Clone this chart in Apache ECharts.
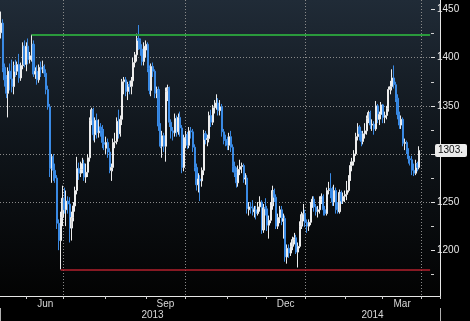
<!DOCTYPE html>
<html><head><meta charset="utf-8">
<script src="https://cdn.jsdelivr.net/npm/echarts@6/dist/echarts.min.js"></script>
<style>html,body{margin:0;padding:0;background:#000;}#c{width:470px;height:321px;}</style>
</head><body><div id="c"></div>
<script>
// Trading days (categories) per month; the last days of April 2014 are empty slots on the axis
const monthDays = [
  ['2013-05',[14,15,16,17,20,21,22,23,24,27,28,29,30,31]],
  ['2013-06',[3,4,5,6,7,10,11,12,13,14,17,18,19,20,21,24,25,26,27,28]],
  ['2013-07',[1,2,3,4,5,8,9,10,11,12,15,16,17,18,19,22,23,24,25,26,29,30,31]],
  ['2013-08',[1,2,5,6,7,8,9,12,13,14,15,16,19,20,21,22,23,26,27,28,29,30]],
  ['2013-09',[2,3,4,5,6,9,10,11,12,13,16,17,18,19,20,23,24,25,26,27,30]],
  ['2013-10',[1,2,3,4,7,8,9,10,11,14,15,16,17,18,21,22,23,24,25,28,29,30,31]],
  ['2013-11',[1,4,5,6,7,8,11,12,13,14,15,18,19,20,21,22,25,26,27,28,29]],
  ['2013-12',[2,3,4,5,6,9,10,11,12,13,16,17,18,19,20,23,24,26,27,30,31]],
  ['2014-01',[2,3,6,7,8,9,10,13,14,15,16,17,20,21,22,23,24,27,28,29,30,31]],
  ['2014-02',[3,4,5,6,7,10,11,12,13,14,17,18,19,20,21,24,25,26,27,28]],
  ['2014-03',[3,4,5,6,7,10,11,12,13,14,17,18,19,20,21,24,25,26,27,28,31]],
  ['2014-04',[1,2,3,4,7,8,9,10,11,14]]
];

const opens = [
  1426,1436,1390,1377,1363,1386,1378,1370,1392,1386,1393,1379,1392,1412,
  1393,1412,1398,1402,1414,1383,1386,1377,1390,1388,1391,1384,1367,1349,1285,1297,1283,1275,1228,1210,
  1234,1254,1242,1251,1248,1223,1234,1246,1262,1285,1280,1284,1290,1276,1281,1296,1335,1346,1320,1335,1322,1328,1324,
  1312,1306,1312,1302,1283,1286,1312,1313,1334,1321,1336,1375,1377,1365,1372,1370,1376,1395,1403,1420,1418,1409,
  1396,1408,1414,1389,1366,1391,1386,1363,1367,1329,1308,1319,1308,1365,1369,1333,1324,1322,1337,1323,1338,
  1327,1286,1316,1320,1309,1324,1323,1307,1286,1268,1274,1272,1283,1321,1315,1316,1340,1333,1348,1352,1353,1345,1349,
  1323,1315,1314,1309,1318,1307,1287,1281,1270,1284,1287,1288,1274,1275,1242,1245,1244,1240,1242,1238,1245,
  1250,1221,1244,1243,1226,1231,1246,1262,1255,1225,1234,1242,1230,1233,1193,1202,1197,1204,1211,1213,1198,
  1204,1225,1237,1238,1229,1225,1229,1247,1253,1245,1240,1242,1253,1256,1242,1238,1262,1264,1263,1250,1262,1242,
  1240,1260,1251,1256,1258,1262,1274,1288,1292,1300,1318,1328,1321,1313,1321,1324,1337,1343,1330,1331,
  1326,1350,1336,1341,1351,1338,1340,1347,1367,1370,1379,1372,1358,1341,1330,1336,1311,1312,1303,1295,1294,
  1283,1280,1290,1286
];
const closes = [
  1436,1390,1377,1363,1386,1378,1370,1392,1386,1393,1379,1392,1412,1393,
  1412,1398,1402,1414,1383,1386,1377,1390,1388,1391,1384,1367,1349,1285,1297,1283,1275,1228,1210,1234,
  1254,1242,1251,1248,1223,1234,1246,1262,1285,1280,1284,1290,1276,1281,1296,1335,1346,1320,1335,1322,1328,1324,1312,
  1310,1312,1302,1283,1286,1312,1313,1334,1321,1336,1375,1377,1365,1372,1370,1376,1395,1403,1420,1418,1409,1396,
  1412,1414,1389,1366,1391,1386,1363,1367,1329,1308,1319,1308,1365,1369,1333,1324,1322,1337,1323,1338,1327,
  1286,1317,1320,1309,1324,1323,1307,1286,1268,1274,1272,1283,1321,1315,1316,1340,1333,1348,1352,1353,1345,1349,1323,
  1315,1314,1309,1318,1307,1287,1281,1270,1284,1287,1288,1274,1275,1243,1245,1244,1240,1242,1238,1245,1250,
  1221,1244,1243,1226,1231,1246,1262,1255,1225,1234,1242,1230,1233,1193,1202,1197,1204,1211,1213,1198,1204,
  1225,1237,1238,1229,1225,1229,1247,1253,1245,1240,1242,1253,1256,1242,1238,1262,1264,1263,1250,1262,1242,1240,
  1260,1251,1256,1258,1262,1274,1288,1292,1300,1318,1328,1321,1313,1321,1324,1337,1343,1330,1331,1326,
  1350,1336,1341,1351,1338,1340,1347,1367,1370,1379,1372,1358,1341,1330,1336,1311,1312,1303,1295,1294,1283,
  1280,1290,1286,1303.6
];
const lows = [
  1420,1385,1370,1358,1338,1366,1364,1362,1380,1382,1374,1376,1388,1390,
  1386,1393,1394,1396,1380,1378,1372,1374,1380,1384,1380,1362,1346,1276,1270,1272,1270,1222,1200,1180,
  1225,1238,1225,1238,1208,1210,1230,1240,1258,1273,1276,1280,1272,1270,1276,1292,1330,1314,1312,1316,1317,1318,1306,
  1304,1300,1296,1280,1272,1282,1306,1310,1316,1318,1330,1362,1360,1356,1362,1362,1370,1390,1396,1408,1402,1392,
  1392,1400,1385,1362,1360,1380,1358,1358,1324,1306,1296,1302,1292,1355,1328,1316,1314,1318,1318,1320,1318,
  1280,1282,1306,1305,1306,1316,1302,1282,1262,1260,1251,1266,1278,1310,1308,1312,1328,1330,1342,1346,1340,1340,1318,
  1310,1308,1304,1304,1302,1281,1276,1265,1266,1278,1280,1270,1268,1238,1236,1238,1236,1234,1232,1236,1240,
  1217,1218,1236,1220,1212,1228,1242,1250,1222,1222,1228,1226,1212,1188,1186,1192,1194,1200,1206,1196,1182,
  1202,1222,1230,1224,1218,1220,1226,1244,1240,1236,1234,1238,1248,1236,1236,1236,1258,1254,1246,1246,1238,1238,
  1238,1248,1248,1250,1252,1260,1272,1282,1288,1298,1314,1314,1308,1310,1316,1320,1332,1326,1324,1320,
  1324,1332,1330,1336,1332,1332,1336,1344,1362,1366,1368,1354,1336,1326,1326,1308,1304,1300,1290,1288,1278,
  1277,1278,1282,1284
];
const highs = [
  1448,1440,1394,1382,1390,1394,1398,1396,1398,1396,1404,1395,1416,1418,
  1416,1420,1406,1424,1418,1390,1392,1393,1396,1397,1393,1388,1371,1352,1300,1300,1290,1278,1232,1240,
  1267,1265,1262,1256,1255,1240,1250,1266,1297,1291,1292,1296,1294,1290,1300,1338,1348,1348,1338,1342,1336,1332,1330,
  1326,1318,1316,1306,1290,1316,1322,1338,1346,1340,1378,1380,1380,1375,1376,1380,1400,1406,1425,1434,1420,1414,
  1416,1418,1416,1392,1394,1395,1388,1370,1370,1332,1324,1322,1369,1372,1370,1336,1328,1342,1340,1342,1344,
  1330,1320,1324,1323,1328,1328,1326,1310,1290,1280,1278,1286,1325,1324,1320,1344,1346,1351,1356,1362,1358,1356,1352,
  1326,1320,1318,1322,1324,1310,1292,1286,1288,1294,1291,1290,1280,1278,1250,1250,1252,1246,1246,1250,1256,
  1252,1248,1254,1246,1236,1250,1267,1264,1258,1238,1246,1246,1238,1236,1206,1206,1208,1214,1218,1216,1208,
  1230,1240,1248,1242,1232,1232,1250,1256,1256,1248,1246,1256,1259,1258,1246,1265,1271,1280,1266,1268,1265,1250,
  1263,1262,1260,1262,1272,1278,1292,1296,1304,1322,1332,1330,1324,1324,1332,1340,1345,1345,1336,1334,
  1355,1352,1344,1354,1352,1344,1350,1370,1376,1388,1392,1375,1362,1344,1340,1338,1316,1314,1306,1298,1298,
  1290,1294,1292,1308
];

// Axis labels
const yTicks = [1200,1250,1300,1350,1400,1450];
const monthLabels = [['2013-06','Jun'],['2013-09','Sep'],['2013-12','Dec'],['2014-03','Mar']];
const quarterMonths = ['2013-07','2013-10','2014-01','2014-04'];
const yearLabels = ['2013','2014'];
// Reference lines: resistance from the high of this day, support from the low of this day
const resistanceDay = '2013-06-06';
const supportDay = '2013-06-28';

// ---- build categories ----
const dates = [];
monthDays.forEach(([ym, days]) => days.forEach(d => dates.push(ym + '-' + String(d).padStart(2,'0'))));
const candleData = opens.map((o,i) => [o, closes[i], lows[i], highs[i]]);

const firstIdx = ym => dates.findIndex(d => d.startsWith(ym));
const idxList = ym => dates.map((d,i)=>d.startsWith(ym)?i:-1).filter(i=>i>=0);
const monthLabelIdx = new Map();
monthLabels.forEach(([ym,name]) => { const l = idxList(ym); monthLabelIdx.set(l[Math.floor(l.length/2)], name); });
const monthKeys = monthDays.map(m=>m[0]);
const monthStartIdx = new Set(monthKeys.slice(1).map(firstIdx));
const quarterIdx = new Set(quarterMonths.map(firstIdx));
const yearMidIdx = new Set(yearLabels.map(y => { const l = idxList(y); return l[Math.floor(l.length/2)]; }));
const yearSepIdx = firstIdx(yearLabels[1]);
const lastIdx = dates.length - 1;
const rIdx = dates.indexOf(resistanceDay), sIdx = dates.indexOf(supportDay);
const resistance = highs[rIdx], support = lows[sIdx];
const lastClose = closes[closes.length-1];

const font = "'Liberation Sans', Arial, sans-serif";
const yScale = {min:1150, max:1460, interval:50};
const chart = echarts.init(document.getElementById('c'), null, {renderer:'canvas', width:470, height:321});
chart.setOption({
  backgroundColor:'#000',
  animation:false,
  grid:[
    {left:0, right:30, top:0, bottom:25, show:true, borderWidth:0,
     backgroundColor:new echarts.graphic.LinearGradient(0,0,0,1,[
       {offset:0,color:'#202b37'},{offset:0.45,color:'#10161c'},{offset:1,color:'#030303'}])},
    {left:0, right:30, top:-1.37, bottom:22.7}
  ],
  xAxis:[
    {type:'category', gridIndex:0, data:dates, boundaryGap:true,
     axisLine:{show:true, lineStyle:{color:'#e6e6e6', width:1}},
     axisTick:{show:true, interval:(i)=>monthStartIdx.has(i), length:3, lineStyle:{color:'#cfcfcf'}},
     axisLabel:{interval:(i)=>monthLabelIdx.has(i), formatter:(v,i)=>monthLabelIdx.get(i)||'',
       color:'#d8d8d8', fontSize:10, margin:3, fontFamily:font},
     splitLine:{show:true, interval:(i)=>quarterIdx.has(i), lineStyle:{color:'#8a8a8a', type:[1,2], width:1}}},
    {type:'category', gridIndex:0, data:dates, boundaryGap:true, position:'bottom', offset:12,
     axisLine:{show:false},
     axisTick:{show:true, interval:(i)=>i===yearSepIdx, length:13, lineStyle:{color:'#b0b0b0'}},
     axisLabel:{interval:(i)=>yearMidIdx.has(i), formatter:(v)=>v.slice(0,4),
       color:'#d8d8d8', fontSize:10, margin:2, fontFamily:font},
     splitLine:{show:false}},
    {type:'category', gridIndex:1, data:dates, boundaryGap:true, show:false}
  ],
  yAxis:[
    {type:'value', gridIndex:0, position:'right', min:0, max:1,
     axisLine:{show:true, lineStyle:{color:'#e6e6e6'}}, axisTick:{show:false}, axisLabel:{show:false}, splitLine:{show:false}},
    {type:'value', gridIndex:1, position:'right', ...yScale,
     axisLine:{show:false},
     axisTick:{show:true, customValues:yTicks, length:4, lineStyle:{color:'#e0e0e0'}},
     minorTick:{show:true, splitNumber:2, length:3, lineStyle:{color:'#cfcfcf'}},
     axisLabel:{customValues:yTicks, formatter:(v)=>String(v), color:'#e8e8e8', fontSize:10, margin:6, fontFamily:font},
     splitLine:{show:true, showMinLine:false, showMaxLine:false, lineStyle:{color:'#8a8a8a', type:[1,2], width:1}}},
    // last-price tag, drawn as a label on an axis sharing the price scale
    {type:'value', gridIndex:1, position:'right', ...yScale,
     axisLine:{show:false}, axisTick:{show:false}, splitLine:{show:false}, minorTick:{show:false},
     axisLabel:{customValues:[lastClose], formatter:(v)=>Number(v).toFixed(1), color:'#111',
       backgroundColor:'#ececec', fontSize:10, fontFamily:font, padding:[2,2,1,3], borderRadius:2, margin:4,
       width:27, overflow:'truncate', ellipsis:''}}
  ],
  series:[{
    type:'candlestick', xAxisIndex:2, yAxisIndex:1, data:candleData, barWidth:1.6,
    itemStyle:{color:'#cfcfcf', color0:'#2f80dc', borderColor:'#ededed', borderColor0:'#3a8ae4', borderWidth:1},
    markLine:{
      silent:true, symbol:['none','none'], animation:false,
      data:[
        [{coord:[dates[rIdx], resistance], lineStyle:{color:'#2a9a3c', width:2, type:'solid'}, label:{show:false}},
         {coord:[dates[lastIdx], resistance]}],
        [{coord:[dates[sIdx], support], lineStyle:{color:'#b3202e', width:1.5, type:'solid'}, label:{show:false}},
         {coord:[dates[lastIdx], support]}]
      ]
    }
  }]
});
</script>
</body></html>
